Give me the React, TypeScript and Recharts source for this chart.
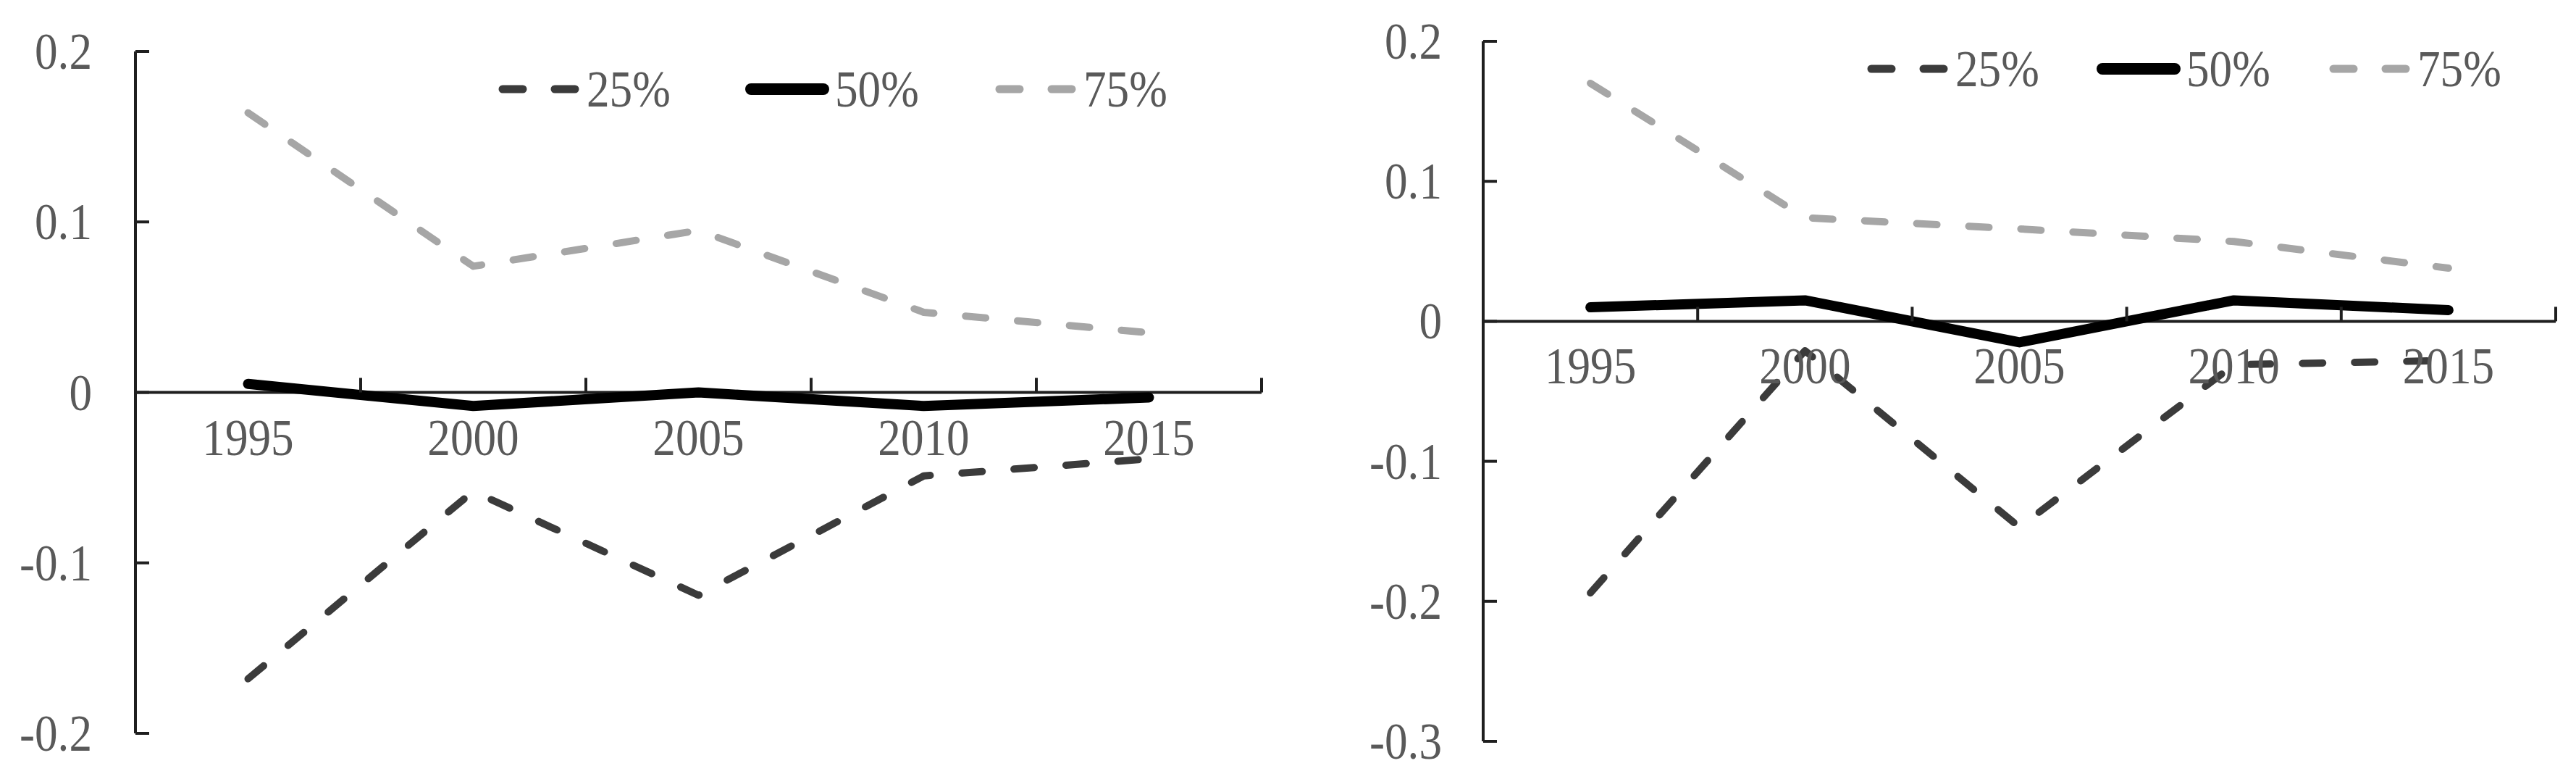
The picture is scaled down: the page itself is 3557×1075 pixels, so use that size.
import { LineChart, Line, XAxis, YAxis, ReferenceLine, Legend } from "recharts";

const years = ["1995", "2000", "2005", "2010", "2015"];
const seriesNames = ["25%", "50%", "75%"];

// left panel
const leftP25 = [-0.168, -0.058, -0.119, -0.049, -0.039];
const leftP50 = [0.005, -0.008, 0.0, -0.008, -0.003];
const leftP75 = [0.164, 0.074, 0.095, 0.047, 0.035];
const leftTicks = [-0.2, -0.1, 0, 0.1, 0.2];

// right panel
const rightP25 = [-0.194, -0.021, -0.147, -0.031, -0.028];
const rightP50 = [0.01, 0.015, -0.015, 0.015, 0.008];
const rightP75 = [0.17, 0.074, 0.066, 0.057, 0.038];
const rightTicks = [-0.3, -0.2, -0.1, 0, 0.1, 0.2];

const H = 1075;
const AXIS = "#1f1f1f";
const TEXT = "#595959";
const FONT = "'Liberation Serif', 'Times New Roman', serif";
const FS = 71;

const SERIES = [
  { key: "p25", color: "#3b3b3b", width: 10, legendWidth: 11, dash: "28 44" },
  { key: "p50", color: "#000000", width: 14, legendWidth: 16, dash: undefined },
  { key: "p75", color: "#a6a6a6", width: 10, legendWidth: 11, dash: "28 44" },
];

type Box = { left: number; right: number; top: number; bottom: number };

interface PanelProps {
  p25: number[];
  p50: number[];
  p75: number[];
  ticks: number[];
  width: number;
  box: Box;
  labelGap: number;
  legend: { x: number; y: number; step: number; textOffset: number };
}

function Panel({ p25, p50, p75, ticks, width, box, labelGap, legend }: PanelProps) {
  const data = years.map((y, i) => ({ year: y, p25: p25[i], p50: p50[i], p75: p75[i] }));
  const min = ticks[0];
  const max = ticks[ticks.length - 1];
  const plotW = box.right - box.left;
  const plotH = box.bottom - box.top;
  const band = plotW / years.length;
  const zeroY = box.top + (plotH * max) / (max - min);

  const XTick = (props: any) => {
    const { x, payload } = props;
    return (
      <g>
        <line x1={x + band / 2} x2={x + band / 2} y1={zeroY} y2={zeroY - 20} stroke={AXIS} strokeWidth={4} />
        <text
          transform={`translate(${x},${zeroY + 86}) scale(0.89,1)`}
          textAnchor="middle"
          fill={TEXT}
          fontFamily={FONT}
          fontSize={FS}
        >
          {payload.value}
        </text>
      </g>
    );
  };

  const YTick = (props: any) => {
    const { x, y, payload } = props;
    const v = payload.value;
    const label = Math.abs(v) < 1e-9 ? "0" : v.toFixed(1);
    return (
      <g>
        <line x1={x} x2={x + 19} y1={y} y2={y} stroke={AXIS} strokeWidth={4} />
        <text
          transform={`translate(${x - labelGap},${y + 24}) scale(0.89,1)`}
          textAnchor="end"
          fill={TEXT}
          fontFamily={FONT}
          fontSize={FS}
        >
          {label}
        </text>
      </g>
    );
  };

  const renderLegend = () => (
    <svg width={1100} height={80} style={{ display: "block" }}>
      {SERIES.map((s, i) => {
        const x0 = i * legend.step;
        return (
          <g key={s.key}>
            <line
              x1={x0 + 6}
              x2={x0 + 106}
              y1={40}
              y2={40}
              stroke={s.color}
              strokeWidth={s.legendWidth}
              strokeDasharray={s.dash}
              strokeLinecap="round"
            />
            <text
              transform={`translate(${x0 + legend.textOffset},${64}) scale(0.89,1)`}
              fill={TEXT}
              fontFamily={FONT}
              fontSize={FS}
            >
              {seriesNames[i]}
            </text>
          </g>
        );
      })}
    </svg>
  );

  return (
    <LineChart
      width={width}
      height={H}
      data={data}
      margin={{ top: box.top, right: width - box.right, bottom: H - box.bottom - 30, left: box.left - 100 }}
    >
      <XAxis
        dataKey="year"
        scale="band"
        height={30}
        axisLine={false}
        tickLine={false}
        interval={0}
        tick={(p: any) => <XTick {...p} />}
      />
      <YAxis
        type="number"
        domain={[min, max]}
        ticks={ticks}
        width={100}
        tickSize={0}
        tickMargin={0}
        interval={0}
        allowDataOverflow
        axisLine={{ stroke: AXIS, strokeWidth: 4 }}
        tickLine={false}
        tick={(p: any) => <YTick {...p} />}
      />
      <ReferenceLine y={0} stroke={AXIS} strokeWidth={4} />
      <Legend
        layout="horizontal"
        verticalAlign="middle"
        align="center"
        content={renderLegend}
        wrapperStyle={{ left: legend.x, top: legend.y, width: 1100, height: 80 }}
      />
      {SERIES.map((s, i) => (
        <Line
          key={s.key}
          name={seriesNames[i]}
          dataKey={s.key}
          stroke={s.color}
          strokeWidth={s.width}
          strokeDasharray={s.dash}
          strokeLinecap="round"
          strokeLinejoin="round"
          dot={false}
          activeDot={false}
          isAnimationActive={false}
        />
      ))}
    </LineChart>
  );
}

export default function App() {
  return (
    <div style={{ position: "absolute", left: 0, top: 0, width: 3557, height: H, background: "#fff" }}>
      <div style={{ position: "absolute", left: 0, top: 0 }}>
        <Panel
          p25={leftP25}
          p50={leftP50}
          p75={leftP75}
          ticks={leftTicks}
          width={1780}
          box={{ left: 187, right: 1742, top: 71, bottom: 1012 }}
          labelGap={60}
          legend={{ x: 688, y: 83, step: 343, textOffset: 122 }}
        />
      </div>
      <div style={{ position: "absolute", left: 1780, top: 0 }}>
        <Panel
          p25={rightP25}
          p50={rightP50}
          p75={rightP75}
          ticks={rightTicks}
          width={1777}
          box={{ left: 268, right: 1749, top: 57, bottom: 1023 }}
          labelGap={57}
          legend={{ x: 798, y: 55, step: 319, textOffset: 122 }}
        />
      </div>
    </div>
  );
}
